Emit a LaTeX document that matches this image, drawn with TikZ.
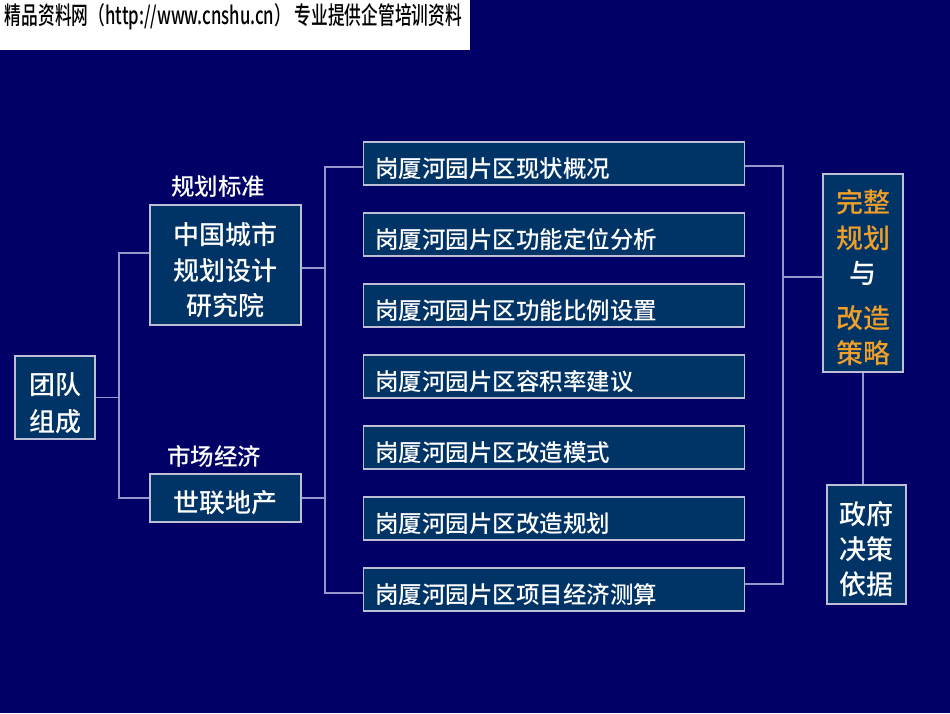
\documentclass[tikz,border=0pt]{standalone}
\usepackage{fontspec}
\usepackage{graphicx}
\setmainfont{Noto Sans CJK SC}
\newfontfamily\medfont{Noto Sans CJK SC Medium}
\definecolor{bgnavy}{RGB}{0,0,102}
\definecolor{boxteal}{RGB}{0,51,102}
\definecolor{linelav}{RGB}{150,150,204}
\definecolor{edgegray}{RGB}{190,190,215}
\definecolor{planorange}{RGB}{240,160,40}
\newcommand{\lowered}[2]{\raisebox{-#1}[\height][\depth]{#2}}
\newcommand{\stacked}[1]{\lowered{8pt}{\begin{tabular}{@{}c@{}}#1\end{tabular}}}

\begin{document}
\begin{tikzpicture}[x=1pt, y=-1pt,
    box/.style={draw=edgegray, fill=boxteal, line width=1.2pt, text=white, inner sep=0pt, align=center},
    item/.style={box, minimum width=381, minimum height=43, text width=358, align=left, font=\fontsize{23.5}{28}\selectfont\medfont},
    link/.style={draw=linelav, line width=1.2pt},
    tag/.style={text=white, font=\fontsize{23.5}{28}\selectfont\medfont}]

    % Background and banner
    \fill[bgnavy] (0,0) rectangle (950,713);
    \fill[white] (0,0) rectangle (470,50);
    \node (banner) at (233.5,17) {\resizebox{457pt}{21pt}{\fontsize{25}{28}\selectfont\medfont 精品资料网（http://www.cnshu.cn） 专业提供企管培训资料}};

    % Team
    \node[box, minimum width=80, minimum height=83, font=\fontsize{26}{37}\selectfont\medfont] (team) at (55,397.5) {\stacked{团队\\组成}};
    \node[box, minimum width=151, minimum height=120, font=\fontsize{26}{35.5}\selectfont\medfont] (cup) at (225.5,265) {\stacked{中国城市\\规划设计\\研究院}};
    \node[box, minimum width=151, minimum height=48, font=\fontsize{26}{32}\selectfont\medfont] (sl) at (225.5,498) {\lowered{5pt}{世联地产}};
    \node[tag] (std) at (218,187) {规划标准};
    \node[tag] (mkt) at (214,456) {市场经济};

    % Work items
    \foreach \t [count=\i] in {现状概况, 功能定位分析, 功能比例设置, 容积率建议, 改造模式, 改造规划, 项目经济测算}
        \node[item] (it\i) at (554, {163.5+71*(\i-1)}) {\lowered{5pt}{岗厦河园片区\t}};

    % Results
    \node[box, minimum width=80, minimum height=198, font=\fontsize{27}{35.5}\selectfont\medfont] (plan) at (863,273)
        {\stacked{\textcolor{planorange}{完整}\\\textcolor{planorange}{规划}\\与\\[9pt]\textcolor{planorange}{改造}\\\textcolor{planorange}{策略}}};
    \node[box, minimum width=79, minimum height=119, font=\fontsize{27}{35}\selectfont\medfont] (gov) at (866.5,544.5) {\stacked{政府\\决策\\依据}};

    % Connectors
    \coordinate (lbus) at (119,397.5);
    \coordinate (mbus) at (325,498);
    \coordinate (rbus) at (783,277);
    \coordinate (cupout) at ([yshift=-3pt]cup.east);
    \draw[link] (team.east) -- (lbus) |- ([yshift=12pt]cup.west);
    \draw[link] (lbus) |- (sl.west);
    \draw[link] ([yshift=-3.5pt]it1.west) -| (mbus) |- ([yshift=-3.5pt]it7.west);
    \draw[link] (sl.east) -- (mbus);
    \draw[link] (cupout) -- (cupout -| mbus);
    \draw[link] ([yshift=-2.5pt]it1.east) -| (rbus) |- ([yshift=5.5pt]it7.east);
    \draw[link] (rbus) -- (rbus -| plan.west);
    \draw[link] (plan.south) -- (plan.south |- gov.north);
\end{tikzpicture}
\end{document}
